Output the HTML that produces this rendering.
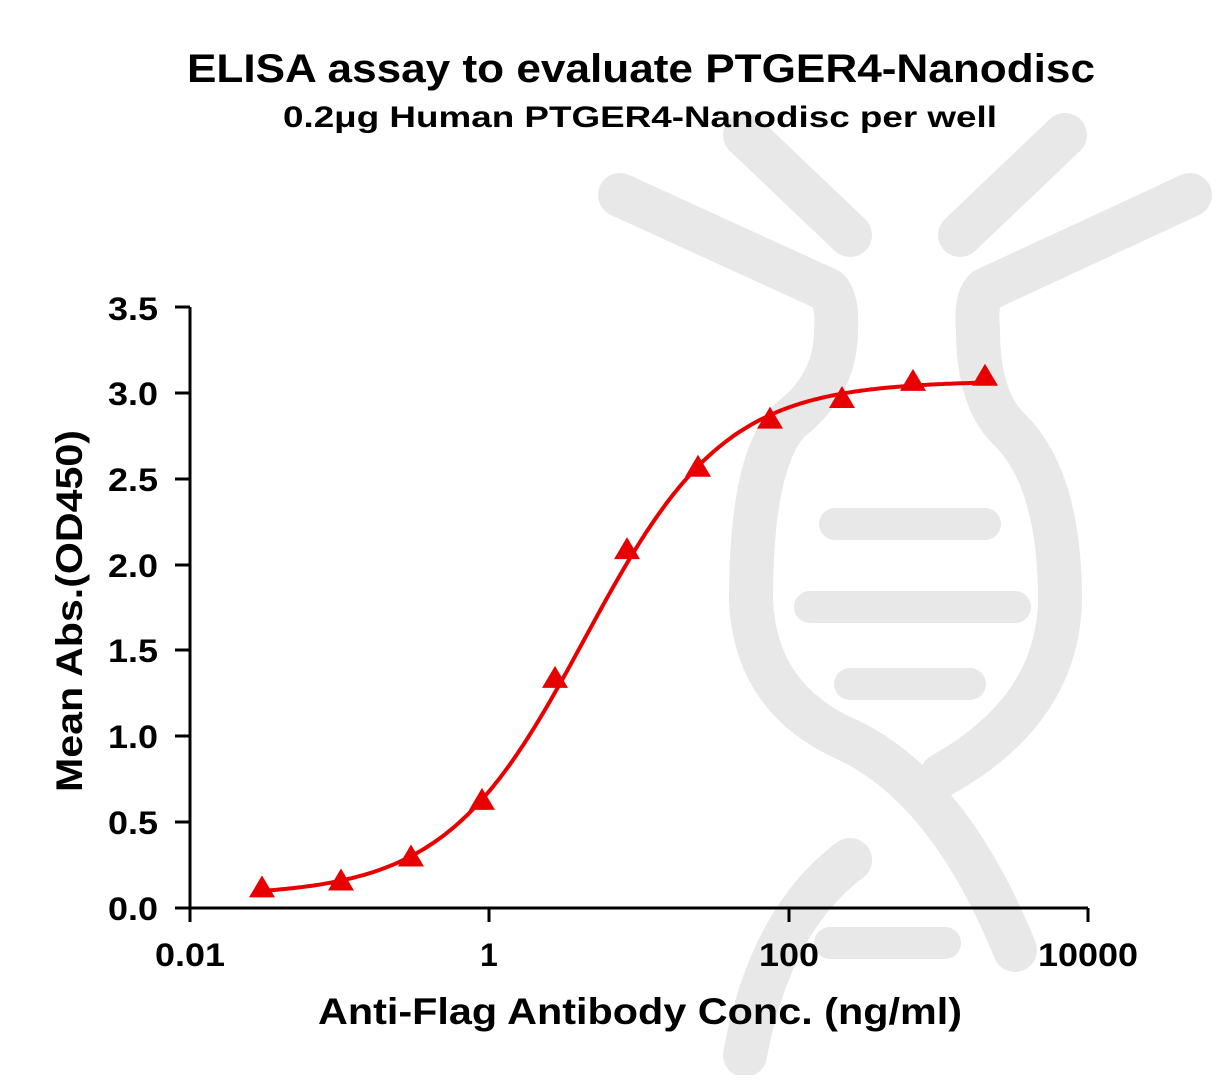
<!DOCTYPE html>
<html><head><meta charset="utf-8"><style>
body{margin:0;background:#fff}
svg text{font-family:"Liberation Sans",Arial,sans-serif;font-weight:bold;fill:#000}
</style></head><body>
<svg width="1217" height="1075" viewBox="0 0 1217 1075" xmlns="http://www.w3.org/2000/svg">
<g fill="none" stroke="#e8e8e8" stroke-linecap="round" stroke-linejoin="round">
 <path d="M620,195 L828,290 Q838,300 836,330 Q836,385 790,420 Q751,460 751,600 Q755,700 850,741 Q950,790 1015,950" stroke-width="44"/>
 <path d="M1190,195 L985,290 Q975,300 978,330 Q978,400 1010,430 Q1060,480 1060,600 Q1058,710 942,775" stroke-width="44"/>
 <path d="M745,135 L850,235" stroke-width="44"/>
 <path d="M1065,135 L960,235" stroke-width="44"/>
 <path d="M835,524 L985,524" stroke-width="32"/>
 <path d="M810,607 L1015,607" stroke-width="32"/>
 <path d="M850,684 L970,684" stroke-width="32"/>
 <path d="M850,860 Q770,920 745,1055" stroke-width="44"/>
 <path d="M830,943 L945,943" stroke-width="32"/>
</g>
<text x="187" y="82" font-size="40" textLength="908" lengthAdjust="spacingAndGlyphs">ELISA assay to evaluate PTGER4-Nanodisc</text>
<text x="283" y="127" font-size="30" textLength="714" lengthAdjust="spacingAndGlyphs">0.2μg Human PTGER4-Nanodisc per well</text>
<g stroke="#000" stroke-width="3" fill="none">
 <path d="M190,307 L190,908 L1088,908"/>
 <path d="M175,307H190M175,393H190M175,479H190M175,565H190M175,650H190M175,736H190M175,822H190M175,908H190"/>
 <path d="M190,908V922M489,908V922M789,908V922M1088,908V922"/>
</g>
<g font-size="32" text-anchor="end">
 <text x="158" y="320" textLength="50" lengthAdjust="spacingAndGlyphs">3.5</text><text x="158" y="405" textLength="50" lengthAdjust="spacingAndGlyphs">3.0</text><text x="158" y="491" textLength="50" lengthAdjust="spacingAndGlyphs">2.5</text>
 <text x="158" y="577" textLength="50" lengthAdjust="spacingAndGlyphs">2.0</text><text x="158" y="662" textLength="50" lengthAdjust="spacingAndGlyphs">1.5</text><text x="158" y="748" textLength="50" lengthAdjust="spacingAndGlyphs">1.0</text>
 <text x="158" y="834" textLength="50" lengthAdjust="spacingAndGlyphs">0.5</text><text x="158" y="920" textLength="50" lengthAdjust="spacingAndGlyphs">0.0</text>
</g>
<g font-size="32">
 <text x="155" y="966" textLength="70" lengthAdjust="spacingAndGlyphs">0.01</text><text x="480" y="966">1</text><text x="759" y="966" textLength="60" lengthAdjust="spacingAndGlyphs">100</text><text x="1038" y="966" textLength="100" lengthAdjust="spacingAndGlyphs">10000</text>
</g>
<text x="318" y="1024" font-size="37" textLength="644" lengthAdjust="spacingAndGlyphs">Anti-Flag Antibody Conc. (ng/ml)</text>
<text transform="translate(82,792) rotate(-90)" font-size="37" textLength="362" lengthAdjust="spacingAndGlyphs">Mean Abs.(OD450)</text>
<path id="curve" fill="none" stroke="#e80000" stroke-width="4"/>
<g id="pts" fill="#e80000"></g>
</svg>
<script>
var b=0.07,t=3.07,L50=0.639,h=0.93;
function Y(v){return 908-v*171.7}
var d="";
for(var x=262;x<=985;x+=3){var L=(x-489)/150;var v=b+(t-b)/(1+Math.pow(10,(L50-L)*h));d+=(d?"L":"M")+x+","+Y(v).toFixed(1);}
document.getElementById("curve").setAttribute("d",d);
var px=[262,341,411,482,555,627,698,770,842,913,985],pv=[0.12,0.16,0.3,0.63,1.34,2.09,2.57,2.85,2.97,3.07,3.1];
var g=document.getElementById("pts"),s="";
for(var i=0;i<px.length;i++){var y=Y(pv[i]);s+='<polygon points="'+px[i]+','+(y-12)+' '+(px[i]-13)+','+(y+10)+' '+(px[i]+13)+','+(y+10)+'"/>';}
g.innerHTML=s;
</script>
</body></html>
